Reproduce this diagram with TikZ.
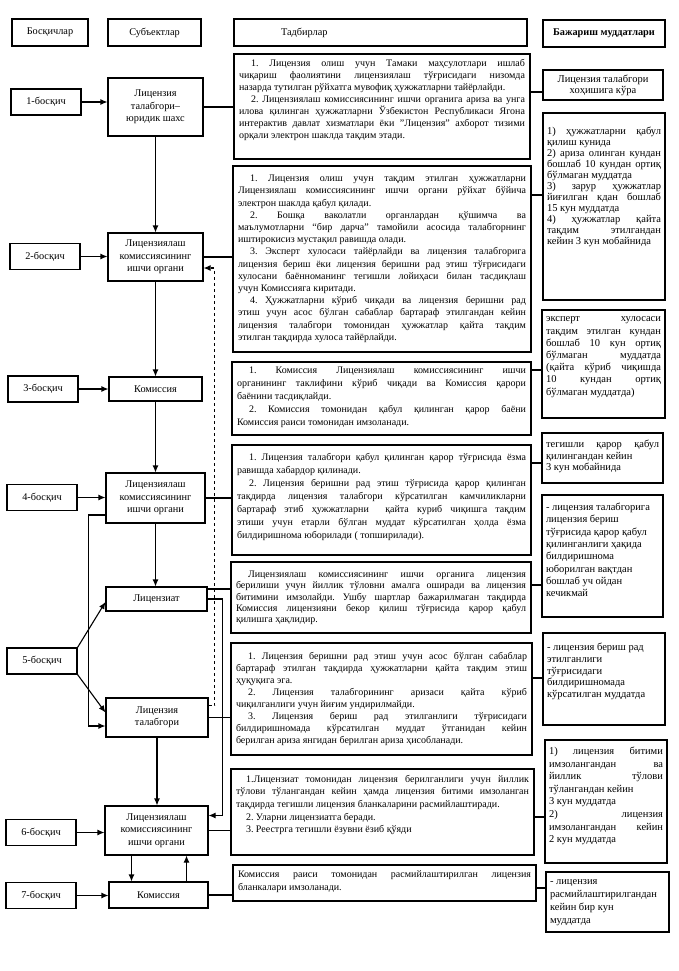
\documentclass[tikz,border=0pt]{standalone}
\usepackage{fontspec}
\setmainfont{Liberation Serif}
\usepackage{tikz}
\usetikzlibrary{arrows.meta}

% fixed-size text block, text starts at the top
\newcommand{\boxpar}[5][10]{\parbox[c][#3pt][t]{#2pt}{\fontsize{#1}{#4pt}\selectfont\frenchspacing #5}}

\begin{document}
\begin{tikzpicture}[x=1pt, y=-1pt, line width=1.1pt,
	>={Latex[width=6pt,length=7pt]},
    every node/.style = {font=\fontsize{10.3}{12.3}\selectfont},
    head/.style = {rectangle, draw=black, minimum height=27pt, inner sep=3pt},
    stage/.style = {rectangle, draw=black, minimum width=70pt, minimum height=26pt},
    subject/.style = {rectangle, draw=black, align=center, inner sep=2pt},
    action/.style = {rectangle, draw=black, inner sep=5pt},
    term/.style = {action, inner xsep=4pt}]
  \path[use as bounding box, fill=white] (0,0) rectangle (679,971);

  % header row
  \node (hstage) [head, minimum width=76pt] at (50,32.5) {Босқичлар};
  \node (hsubj) [head, minimum width=93pt] at (154.5,32.5) {Субъектлар};
  \node (hact) [head, minimum width=293pt] at (380.5,32.5) {\parbox{279pt}{\hspace*{40pt}Тадбирлар}};
  \node (hterm) [head, minimum width=122pt] at (604,33.5) {\textbf{Бажариш муддатлари}};

  % stages
  \node (st1) [stage] at (46,102) {1-босқич};
  \node (st2) [stage] at (45,256.5) {2-босқич};
  \node (st3) [stage] at (43,389) {3-босқич};
  \node (st4) [stage] at (42,497.5) {4-босқич};
  \node (st5) [stage] at (42,661) {5-босқич};
  \node (st6) [stage] at (41,832.5) {6-босқич};
  \node (st7) [stage] at (41,895.5) {7-босқич};

  % subjects
  \node (appl) [subject, minimum width=95pt, minimum height=58pt] at (155.5,107) {Лицензия\\талабгори–\\юридик шахс};
  \node (organ2) [subject, minimum width=95pt, minimum height=48pt] at (155.5,257) {Лицензиялаш\\комиссиясининг\\ишчи органи};
  \node (kom3) [subject, minimum width=93pt, minimum height=24pt] at (155.5,389) {Комиссия};
  \node (organ4) [subject, minimum width=99pt, minimum height=50pt] at (155.5,498) {Лицензиялаш\\комиссиясининг\\ишчи органи};
  \node (licensee) [subject, minimum width=101pt, minimum height=24pt] at (156.5,599) {Лицензиат};
  \node (applicant) [subject, minimum width=102pt, minimum height=39pt] at (157,717.5) {Лицензия\\талабгори};
  \node (organ6) [subject, minimum width=103pt, minimum height=49pt] at (156.5,830.5) {Лицензиялаш\\комиссиясининг\\ишчи органи};
  \node (kom7) [subject, minimum width=99pt, minimum height=26pt] at (158.5,895) {Комиссия};

  % actions
  \node (act1) [action] at (382,106.5) {\boxpar{286}{95}{12}{%
\hspace*{12pt}1. Лицензия олиш учун Тамаки маҳсулотлари ишлаб\linebreak
чиқариш фаолиятини лицензиялаш тўғрисидаги низомда\linebreak
назарда тутилган рўйхатга мувофиқ ҳужжатларни тайёрлайди.\par
\hspace*{12pt}2. Лицензиялаш комиссиясининг ишчи органига ариза ва унга\linebreak
илова қилинган ҳужжатларни Ўзбекистон Республикаси Ягона\linebreak
интерактив давлат хизматлари ёки "Лицензия" ахборот тизими\linebreak
орқали электрон шаклда тақдим этади.}};
  \node (act2) [action] at (382,259) {\boxpar{288}{176}{12.2}{\vspace*{4pt}%
\hspace*{12pt}1. Лицензия олиш учун тақдим этилган ҳужжатларни\linebreak
Лицензиялаш комиссиясининг ишчи органи рўйхат бўйича\linebreak
электрон шаклда қабул қилади.\par
\hspace*{12pt}2. Бошқа ваколатли органлардан қўшимча ва\linebreak
маълумотларни “бир дарча” тамойили асосида талабгорнинг\linebreak
иштирокисиз мустақил равишда олади.\par
\hspace*{12pt}3. Эксперт хулосаси тайёрлайди ва лицензия талабгорига\linebreak
лицензия бериш ёки лицензия беришни рад этиш тўғрисидаги\linebreak
хулосани баённоманинг тегишли лойиҳаси билан тасдиқлаш\linebreak
учун Комиссияга киритади.\par
\hspace*{12pt}4. Ҳужжатларни кўриб чиқади ва лицензия беришни рад\linebreak
этиш учун асос бўлган сабаблар бартараф этилгандан кейин\linebreak
лицензия талабгори томонидан ҳужжатлар қайта тақдим\linebreak
этилган тақдирда хулоса тайёрлайди.}};
  \node (act3) [action] at (381.5,398.5) {\boxpar{289}{63}{13}{%
\hspace*{12pt}1. Комиссия Лицензиялаш комиссиясининг ишчи\linebreak
органининг таклифини кўриб чиқади ва Комиссия қарори\linebreak
баёнини тасдиқлайди.\par
\hspace*{12pt}2. Комиссия томонидан қабул қилинган қарор баёни\linebreak
Комиссия раиси томонидан имзоланади.}};
  \node (act4) [action] at (381.5,500) {\boxpar{289}{100}{13}{\vspace*{3pt}%
\hspace*{12pt}1. Лицензия талабгори қабул қилинган қарор тўғрисида ёзма\linebreak
равишда хабардор қилинади.\par
\hspace*{12pt}2. Лицензия беришни рад этиш тўғрисида қарор қилинган\linebreak
тақдирда лицензия талабгори кўрсатилган камчиликларни\linebreak
бартараф этиб ҳужжатларни\ \ қайта куриб чиқишга тақдим\linebreak
этиши учун етарли бўлган муддат кўрсатилган ҳолда ёзма\linebreak
билдиришнома юборилади ( топширилади).}};
  \node (act5) [action] at (381,597.5) {\boxpar{290}{61}{11.3}{\vspace*{4pt}%
\hspace*{12pt}Лицензиялаш комиссиясининг ишчи органига лицензия\linebreak
берилиши учун йиллик тўловни амалга оширади ва лицензия\linebreak
битимини имзолайди. Ушбу шартлар бажарилмаган тақдирда\linebreak
Комиссия лицензияни бекор қилиш тўғрисида қарор қабул\linebreak
қилишга ҳақлидир.}};
  \node (act6) [action] at (381.5,699) {\boxpar{291}{102}{12}{\vspace*{4pt}%
\hspace*{12pt}1. Лицензия беришни рад этиш учун асос бўлган сабаблар\linebreak
бартараф этилган тақдирда ҳужжатларни қайта тақдим этиш\linebreak
ҳуқуқига эга.\par
\hspace*{12pt}2. Лицензия талабгорининг аризаси қайта кўриб\linebreak
чиқилганлиги учун йиғим ундирилмайди.\par
\hspace*{12pt}3. Лицензия бериш рад этилганлиги тўғрисидаги\linebreak
билдиришномада кўрсатилган муддат ўтганидан кейин\linebreak
берилган ариза янгидан берилган ариза ҳисобланади.}};
  \node (act7) [action] at (382.5,812) {\boxpar{293}{76}{12.7}{\vspace*{1pt}%
\hspace*{10pt}1.Лицензиат томонидан лицензия берилганлиги учун йиллик\linebreak
тўлови тўлангандан кейин ҳамда лицензия битими имзоланган\linebreak
тақдирда тегишли лицензия бланкаларини расмийлаштиради.\par
\hspace*{10pt}2. Уларни лицензиатга беради.\par
\hspace*{10pt}3. Реестрга тегишли ёзувни ёзиб қўяди}};
  \node (act8) [action] at (384.5,883) {\boxpar{293}{26}{12.5}{\vspace*{1pt}%
Комиссия раиси томонидан расмийлаштирилган лицензия\linebreak
бланкалари имзоланади.}};

  % terms
  \node (term1) [term, minimum width=120pt, minimum height=30pt, align=center, inner sep=2pt,
    font=\fontsize{10.5}{11}\selectfont] at (603,85) {Лицензия талабгори\\хоҳишига кўра};
  \node (term2) [term] at (604,206.5) {\boxpar[10.5]{114}{177}{11}{\vspace*{9pt}%
1) ҳужжатларни қабул\linebreak
қилиш кунида\par
2) ариза олинган кундан\linebreak
бошлаб 10 кундан ортиқ\linebreak
бўлмаган муддатда\par
3) зарур ҳужжатлар\linebreak
йиғилган кдан бошлаб\linebreak
15 кун муддатда\par
4) ҳужжатлар қайта\linebreak
тақдим этилгандан\linebreak
кейин 3 кун мобайнида}};
  \node (term3) [term] at (603.5,364) {\boxpar[10.5]{115}{98}{12.2}{\vspace*{2pt}%
эксперт хулосаси\linebreak
тақдим этилган кундан\linebreak
бошлаб 10 кун ортиқ\linebreak
бўлмаган муддатда\linebreak
(қайта кўриб чиқишда\linebreak
10 кундан ортиқ\linebreak
бўлмаган муддатда)}};
  \node (term4) [term] at (602.5,458) {\boxpar[10.5]{113}{40}{11.5}{\vspace*{2pt}%
тегишли қарор қабул\linebreak
қилингандан кейин\par
3 кун мобайнида}};
  \node (term5) [term] at (602.5,556) {\boxpar[10.5]{113}{112}{12.3}{\vspace*{3pt}\raggedright
- лицензия талабгорига\\
лицензия бериш\\
тўғрисида қарор қабул\\
қилинганлиги ҳақида\\
билдиришнома\\
юборилган вақтдан\\
бошлаб уч ойдан\\
кечикмай}};
  \node (term6) [term] at (604,679) {\boxpar[10.5]{114}{82}{11.8}{\vspace*{5pt}\raggedright
- лицензия бериш рад\\
этилганлиги\\
тўғрисидаги\\
билдиришномада\\
кўрсатилган муддатда}};
  \node (term7) [term] at (606,801.5) {\boxpar[10.5]{114}{113}{12.6}{\vspace*{2pt}%
1) лицензия битими\linebreak
имзолангандан ва\linebreak
йиллик тўлови\linebreak
тўлангандан кейин\par
3 кун муддатда\par
2) лицензия\linebreak
имзолангандан кейин\linebreak
2 кун муддатда}};
  \node (term8) [term] at (607.5,902) {\boxpar[10.5]{115}{50}{12.7}{\vspace*{3pt}\raggedright
- лицензия\\
расмийлаштирилгандан\\
кейин бир кун\\
муддатда}};

  % stages to subjects
  \path[->]
    (st1.east) edge (st1.east -| appl.west)
    (st2.east) edge (st2.east -| organ2.west)
    (st3.east) edge (st3.east -| kom3.west)
    (st4.east) edge (st4.east -| organ4.west)
    (st5.north east) edge ([yshift=-3pt]licensee.west)
    (st5.south east) edge ([yshift=5pt]applicant.west)
    (st6.east) edge (st6.east -| organ6.west)
    (st7.east) edge (st7.east -| kom7.west);

  % flow between subjects
  \path[->]
    (appl.south) edge (appl.south |- organ2.north)
    (organ2.south) edge (organ2.south |- kom3.north)
    (kom3.south) edge (kom3.south |- organ4.north)
    (organ4.south) edge (organ4.south |- licensee.north)
    (applicant.south) edge (applicant.south |- organ6.north)
    ([xshift=-25pt]organ6.south) edge ([xshift=-25pt]organ6.south |- kom7.north)
    ([xshift=30pt]organ6.south |- kom7.north) edge ([xshift=30pt]organ6.south);
  \draw[->] ([yshift=-17pt]organ4.west) -| ([xshift=-17pt,yshift=-8.5pt]applicant.west)
    -- ([yshift=-8.5pt]applicant.west);
  \draw[->,dashed] ([yshift=12pt]applicant.east) -| ([xshift=11pt,yshift=-11pt]organ2.east)
    -- ([yshift=-11pt]organ2.east);
  \draw[->] (licensee.east) -| ([xshift=14pt,yshift=15pt]organ6.east)
    -- ([yshift=15pt]organ6.east);

  % subjects to actions
  \path
    (appl.east) edge (appl.east -| act1.west)
    (organ2.east) edge (organ2.east -| act2.west)
    (organ4.east) edge (organ4.east -| act4.west)
    ([yshift=10pt]licensee.east) edge ([yshift=10pt]licensee.east -| act5.west)
    (applicant.east) edge (applicant.east -| act6.west)
    (organ6.east) edge (organ6.east -| act7.west)
    (kom7.east) edge (kom7.east -| act8.west);

  % actions to terms
  \path
    ([yshift=14.5pt]act1.east) edge ([yshift=14.5pt]act1.east -| term1.west)
    ([yshift=64pt]act2.east) edge ([yshift=64pt]act2.east -| term2.west)
    ([yshift=28.5pt]act3.east) edge ([yshift=28.5pt]act3.east -| term3.west)
    ([yshift=37pt]act4.east) edge ([yshift=37pt]act4.east -| term4.west)
    ([yshift=12.5pt]act5.east) edge ([yshift=12.5pt]act5.east -| term5.west)
    ([yshift=21pt]act6.east) edge ([yshift=21pt]act6.east -| term6.west)
    ([yshift=-5pt]act7.east) edge ([yshift=-5pt]act7.east -| term7.west)
    ([yshift=-5pt]act8.east) edge ([yshift=-5pt]act8.east -| term8.west);
\end{tikzpicture}
\end{document}
